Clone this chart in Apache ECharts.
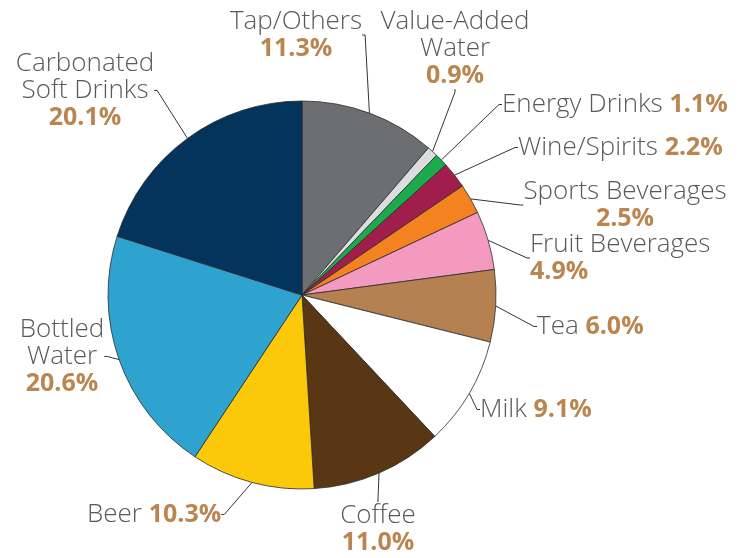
<!DOCTYPE html>
<html>
<head>
<meta charset="utf-8">
<script src="https://cdn.jsdelivr.net/npm/echarts@6/dist/echarts.min.js"></script>
<style>html,body{margin:0;padding:0;background:#fff}#c{width:750px;height:558px}</style>
</head>
<body>
<div id="c"></div>
<script>
// ---- data ----
var categories = ['Tap/Others','Value-Added Water','Energy Drinks','Wine/Spirits','Sports Beverages','Fruit Beverages','Tea','Milk','Coffee','Beer','Bottled Water','Carbonated Soft Drinks'];
var shares = [11.3, 0.9, 1.1, 2.2, 2.5, 4.9, 6.0, 9.1, 11.0, 10.3, 20.6, 20.1];
// label text as displayed (line breaks)
var labelNames = ['Tap/Others','Value-Added\nWater','Energy Drinks','Wine/Spirits','Sports Beverages','Fruit Beverages','Tea','Milk','Coffee','Beer','Bottled\nWater','Carbonated\nSoft Drinks'];
var pctOnNewLine = [true, true, false, false, true, true, false, false, true, false, true, true];

// ---- styles / layout (not data) ----
var colors = ['#6d6e71','#dcdddf','#1bab4b','#a11d4b','#f58220','#f49ac1','#b68150','#ffffff','#5a3714','#fcc80a','#2ea3d0','#04335c'];
// label anchor [x, y, align] (y = top of text block)
var labelPos = [
  [296, 8, 'center'],
  [455, 8, 'center'],
  [502, 91, 'left'],
  [518, 134, 'left'],
  [625, 178, 'center'],
  [530, 231, 'left'],
  [537, 313, 'left'],
  [480, 396, 'left'],
  [378, 502, 'center'],
  [87, 501, 'left'],
  [62, 316, 'center'],
  [85, 50, 'center']
];
var FONT = 'Open Sans, Liberation Sans, sans-serif';

var data = categories.map(function (c, i) {
  var txt = '{n|' + labelNames[i].split('\n').join('}\n{n|') + '}' + (pctOnNewLine[i] ? '\n' : '{n| }') + '{p|' + shares[i].toFixed(1) + '%}';
  return {
    name: c,
    value: shares[i],
    itemStyle: { color: colors[i] },
    label: { formatter: txt, align: labelPos[i][2] }
  };
});

var chart = echarts.init(document.getElementById('c'), null, { renderer: 'canvas' });
chart.setOption({
  animation: false,
  series: [{
    type: 'pie',
    center: [302, 295],
    radius: 194,
    startAngle: 90,
    clockwise: true,
    avoidLabelOverlap: false,
    data: data,
    itemStyle: { borderColor: '#2b2b2b', borderWidth: 0.8 },
    label: {
      show: true,
      position: 'outside',
      fontFamily: FONT,
      lineHeight: 27,
      rich: {
        n: { color: '#58595b', fontSize: 26, fontWeight: 300, lineHeight: 27, fontFamily: FONT },
        p: { color: '#bb8550', fontSize: 25, fontWeight: 'bold', lineHeight: 27, fontFamily: FONT }
      }
    },
    labelLine: { show: true, length: 8, length2: 3, lineStyle: { color: '#333', width: 1 } },
    labelLayout: function (p) {
      var lp = labelPos[p.dataIndex];
      return { x: lp[0], y: lp[1], align: lp[2], verticalAlign: 'top' };
    }
  }]
});
</script>
</body>
</html>
